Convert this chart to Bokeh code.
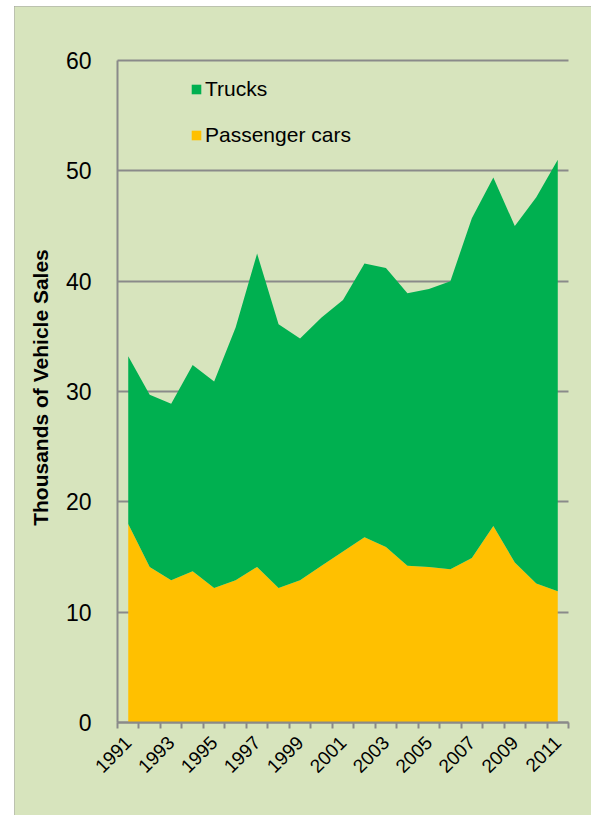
import math
from bokeh.plotting import figure
from bokeh.models import (ColumnDataSource, Range1d, FixedTicker, Legend, LegendItem)
from bokeh.core.properties import value
from bokeh.embed import file_html
from bokeh.resources import INLINE

# ---- data ----
years = [1991, 1992, 1993, 1994, 1995, 1996, 1997, 1998, 1999, 2000, 2001,
         2002, 2003, 2004, 2005, 2006, 2007, 2008, 2009, 2010, 2011]
passenger_cars = [18.0, 14.1, 12.9, 13.7, 12.2, 12.9, 14.1, 12.2, 12.9, 14.2, 15.5,
                  16.8, 15.9, 14.2, 14.1, 13.9, 14.9, 17.8, 14.5, 12.6, 11.9]
trucks = [15.2, 15.6, 16.0, 18.7, 18.7, 22.9, 28.4, 23.9, 21.9, 22.5, 22.8,
          24.8, 25.3, 24.7, 25.2, 26.1, 30.8, 31.6, 30.5, 35.0, 39.1]
tick_years = [1991, 1993, 1995, 1997, 1999, 2001, 2003, 2005, 2007, 2009, 2011]
tick_labels = [str(y) for y in tick_years]
y_ticks = [0, 10, 20, 30, 40, 50, 60]
y_title = "Thousands of Vehicle Sales"
series_names = ["Trucks", "Passenger cars"]

BG = "#D7E4BD"
CAR = "#FFC000"
TRUCK = "#00B050"
AX = "#8A8A8A"
FONT = "Liberation Sans"

# ---- layout (pixels, canvas coordinates); the frame covers the whole canvas
# so that rotated tick labels and the axis title are never clipped
W, H = 577, 809
AX_LEFT, AX_RIGHT = 103, 554      # x-axis span inside the canvas
AX_TOP, AX_BOTTOM = 54, 716       # y-axis span inside the canvas
TITLE_X = 26                      # centre of the rotated y title

x_lo, x_hi = years[0] - 0.5, years[-1] + 0.5
y_lo, y_hi = y_ticks[0], y_ticks[-1]
ppx = (AX_RIGHT - AX_LEFT) / (x_hi - x_lo)
ppy = (AX_BOTTOM - AX_TOP) / (y_hi - y_lo)
x_range = Range1d(x_lo - AX_LEFT / ppx, x_hi + (W - AX_RIGHT) / ppx)
y_range = Range1d(y_lo - (H - AX_BOTTOM) / ppy, y_hi + AX_TOP / ppy)

source = ColumnDataSource(dict(x=years, cars=passenger_cars, trucks=trucks))

p = figure(width=W, height=H, output_backend="svg", toolbar_location=None,
           x_range=x_range, y_range=y_range,
           min_border_left=0, min_border_right=0,
           min_border_top=0, min_border_bottom=0)
p.margin = (6, 4, 0, 14)
p.styles = {"outline": "2px solid #A0A0A0", "outline-offset": "-2px"}

p.background_fill_color = BG
p.border_fill_color = BG
p.outline_line_color = None

# horizontal grid lines limited to the plotting area
p.xgrid.grid_line_color = None
yg = p.ygrid[0]
if hasattr(yg, "cross_bounds"):
    yg.ticker = FixedTicker(ticks=y_ticks)
    yg.bounds = (y_lo, y_hi)
    yg.cross_bounds = (x_lo, x_hi)
    yg.grid_line_color = AX
    yg.grid_line_width = 2
    yg.level = "underlay"
else:
    yg.grid_line_color = None
    p.segment(x0=[x_lo] * len(y_ticks), x1=[x_hi] * len(y_ticks), y0=y_ticks, y1=y_ticks,
              line_color=AX, line_width=2, level="underlay")

r = p.varea_stack(stackers=["cars", "trucks"], x="x", color=[CAR, TRUCK], source=source)

# y axis
ya = p.yaxis[0]
ya.fixed_location = x_lo
ya.bounds = (y_lo, y_hi)
ya.ticker = FixedTicker(ticks=y_ticks)
ya.axis_line_color = AX
ya.axis_line_width = 2
ya.major_tick_line_color = None
ya.major_tick_out = 0
ya.major_tick_in = 0
ya.minor_tick_line_color = None
ya.major_label_standoff = 26
ya.major_label_text_font = FONT
ya.major_label_text_font_size = "23px"
ya.major_label_text_color = "#000000"

# x axis at value 0: tick marks on category boundaries
xa = p.xaxis[0]
xa.fixed_location = y_lo
xa.bounds = (x_lo, x_hi)
xa.ticker = FixedTicker(ticks=[],
                        minor_ticks=[y - 0.5 for y in years] + [years[-1] + 0.5])
xa.axis_line_color = AX
xa.axis_line_width = 2
xa.major_tick_line_color = None
xa.minor_tick_line_color = AX
xa.minor_tick_line_width = 2
xa.minor_tick_out = 6
xa.minor_tick_in = 0

# rotated year labels whose end sits at the category centre (Excel style)
p.text(x=tick_years, y=[y_lo] * len(tick_years), text=tick_labels,
       angle=math.pi / 4, text_align="right", text_baseline="middle",
       x_offset=0, y_offset=17,
       text_font=value(FONT), text_font_size="19px", text_color="#000000")

# y axis title
p.text(x=[x_range.start + TITLE_X / ppx], y=[(y_lo + y_hi) / 2], text=[y_title],
       angle=math.pi / 2, text_align="center", text_baseline="middle",
       y_offset=-4,
       text_font=value(FONT), text_font_size="21px", text_font_style="bold",
       text_color="#000000")

legend = Legend(items=[LegendItem(label=series_names[0], renderers=[r[1]]),
                       LegendItem(label=series_names[1], renderers=[r[0]])],
                location=(AX_LEFT + 73, H - AX_BOTTOM + 575), orientation="vertical",
                glyph_width=12, glyph_height=12, label_standoff=3,
                label_text_font=FONT, label_text_font_size="21px",
                label_text_color="#000000", spacing=22, padding=0, margin=0,
                background_fill_alpha=0, border_line_color=None)
p.add_layout(legend, "center")

open("out.html", "w").write(file_html(p, INLINE))
